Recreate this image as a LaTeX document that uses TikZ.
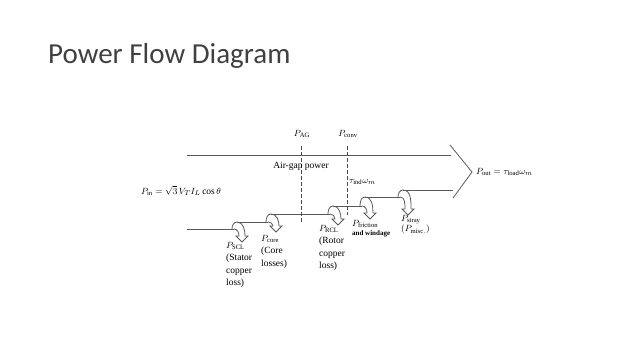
\documentclass[tikz,border=0pt]{standalone}
\usepackage{fontspec}
\setmainfont{Liberation Serif}
\newfontfamily\titlefont{Carlito}
\begin{document}
\begin{tikzpicture}[x=1pt,y=-1pt,
  flow/.style={draw=black!65, line width=0.8pt},
  dashln/.style={draw=black!70, line width=0.7pt, dash pattern=on 4pt off 2pt},
  lbl/.style={inner sep=0pt, font=\fontsize{9.5}{11}\selectfont, text=black},
  note/.style={inner sep=0pt, align=left, font=\fontsize{9.5}{12.5}\selectfont, text=black}]
\useasboundingbox (0,0) rectangle (638,359);
% title
\node[anchor=west, inner sep=0pt, font=\titlefont\fontsize{29}{34}\selectfont, text=black!75] (title) at (48,56) {Power Flow Diagram};

% hook macro: #1 = s (x), #2 = lower y, #3 = upper y, #4 = tip y
\newcommand\losshook[4]{%
  \draw[flow] (#1,#2) to[out=0,in=90] (#1+5,#4-6);
  \draw[flow] (#1+3,#3) to[out=0,in=90] (#1+11,#4-6);
  \draw[flow] (#1+5,#4-6) -- (#1+2,#4-6) -- (#1+8,#4) -- (#1+14,#4-6) -- (#1+11,#4-6);
  \draw[flow] (#1-2,#2) to[out=90,in=180] (#1+3,#3);
}

% top edge
\coordinate (topL) at (187,155);
\coordinate (topR) at (451,155);
\draw[flow] (topL) -- (topR);
% bottom staircase
\coordinate (b0) at (187,229);
\draw[flow] (b0) -- (234,229);
\draw[flow] (237,222) -- (268,222);
\draw[flow] (271,214) -- (330,214);
\draw[flow] (333,206) -- (362,206);
\draw[flow] (365,197) -- (400,197);
\draw[flow] (403,190) -- (453,190);
\losshook{234}{229}{222}{242}
\losshook{268}{222}{214}{232}
\losshook{330}{214}{206}{225}
\losshook{362}{206}{197}{219}
\losshook{400}{197}{190}{215}
% arrow head
\coordinate (tip) at (472,172);
\draw[flow] (450,145) -- (tip) -- (453,198);

% dashed lines
\draw[dashln] (301,146) -- (301,222);
\draw[dashln] (347,146) -- (347,215);

% labels
\node[lbl] (pag) at (302,134) {$P_{\mathrm{AG}}$};
\node[lbl] (pconv) at (348,134) {$P_{\mathrm{conv}}$};
\node[lbl] (agp) at (301,166) {Air-gap power};
\node[lbl, anchor=west] (tau) at (349,182) {$\tau_{\mathrm{ind}}\omega_m$};
\node[lbl, anchor=west] (pin) at (141,191) {$P_{\mathrm{in}}=\sqrt{3}\,V_T I_L\cos\theta$};
\node[lbl, anchor=west] (pout) at (476,172) {$P_{\mathrm{out}}=\tau_{\mathrm{load}}\omega_m$};
\node[note, anchor=north west] (scl) at (226,242) {$P_{\mathrm{SCL}}$\\(Stator\\copper\\loss)};
\node[note, anchor=north west] (core) at (261,235) {$P_{\mathrm{core}}$\\(Core\\losses)};
\node[note, anchor=north west] (rcl) at (319,225) {$P_{\mathrm{RCL}}$\\(Rotor\\copper\\loss)};
\node[note, anchor=north west] (fw) at (352,220) {$P_{\mathrm{friction}}$\\[-3pt]{\fontsize{7}{8}\selectfont\bfseries and windage}};
\node[note, anchor=north west] (stray) at (401,215) {$P_{\mathrm{stray}}$\\[-2pt]$(P_{\mathrm{misc.}})$};
\end{tikzpicture}
\end{document}
